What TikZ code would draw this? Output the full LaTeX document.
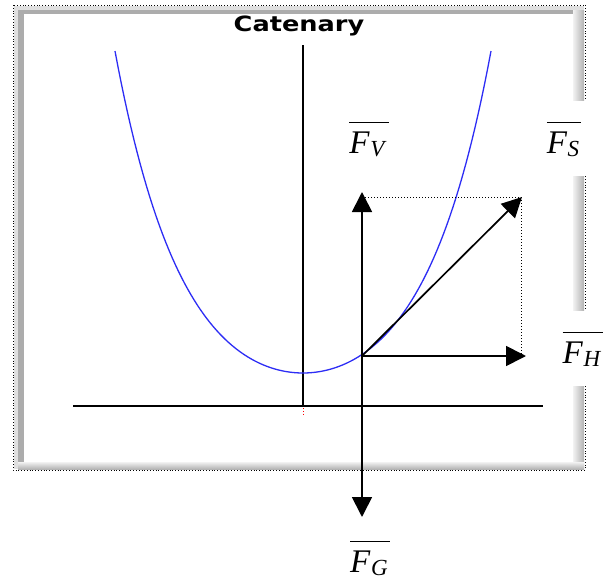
\documentclass[tikz,border=0pt]{standalone}
\usepackage{amsmath}
\usepackage{fontspec}
\setmainfont{Liberation Serif}
\newfontfamily\ttlfont{DejaVu Sans}
\usetikzlibrary{arrows.meta}
\definecolor{catblue}{RGB}{45,45,245}
\newcommand{\forcelbl}[2]{$\overline{\hbox{\rule{0pt}{27pt}\textit{#1}\kern0.5pt\raisebox{-3pt}{\fontsize{23}{25}\selectfont\textit{#2}}\kern2pt}}$}

\begin{document}
\begin{tikzpicture}[x=1pt, y=-1pt,
    >={Triangle[length=20pt, width=20pt]},
    force/.style={->, line width=1.7pt},
    guide/.style={dotted, line width=1pt},
    axis/.style={black, line width=1.4pt},
    lbl/.style={anchor=base, inner sep=0pt, font=\fontsize{33}{38}\selectfont},
    gap/.style={lbl, fill=white, minimum width=60pt, minimum height=75pt},
  ]
  \useasboundingbox (0,0) rectangle (606,581);

  %% ---------------- window frame ----------------
  \draw[dotted, line width=0.8pt] (13,5) rectangle (585,470);
  \fill[gray!25] (14,6) rectangle (584,469);
  \fill[gray!65] (18,10) rectangle (576,462);
  \shade[left color=gray!10, right color=gray!60] (573,10) rectangle (584,469);
  \shade[top color=gray!10, bottom color=gray!60] (18,462) rectangle (584,469);
  \fill[white] (24,14) rectangle (573,462);
  \node (title) at (299,26)
    {\ttlfont\bfseries\fontsize{21}{24}\selectfont\scalebox{1.22}[1]{Catenary}};

  %% ---------------- axes and chain ----------------
  \coordinate (axtop) at (303,45);
  \coordinate (axbot) at (303,406);
  \coordinate (gl) at (73,406);
  \coordinate (gr) at (543,406);
  \draw[black, line width=1.4pt] (axtop) -- (axbot);
  \draw[axis] (gl) -- (gr);
  \draw[red, dotted, line width=0.8pt] (303,408) -- (303,416);
  \draw[catblue, line width=1.3pt]
    plot[domain=-188:188, samples=120] (\x+303, {373-46.2*(cosh(\x/68)-1)});

  %% ---------------- forces ----------------
  \coordinate (O) at (362,356);
  \coordinate (vtip) at (362,192);
  \coordinate (gtip) at (362,517);
  \coordinate (htip) at (526,356);
  \coordinate (stip) at (522,197);
  \coordinate (cnr) at (521,197);
  \draw[guide] (365,197) -- (cnr) -- (521,356);
  \draw[force] (O) -- (vtip);
  \draw[force] (O) -- (gtip);
  \draw[force] (O) -- (htip);
  \draw[force] (O) -- (stip);

  \node[lbl] (FV) at (369,153) {\forcelbl{F}{V}};
  \node[gap] (FS) at (564,153) {\forcelbl{F}{S}};
  \node[gap, minimum width=50pt] (FH) at (583,363) {\forcelbl{F}{H}};
  \node[lbl] (FG) at (370,572) {\forcelbl{F}{G}};

\end{tikzpicture}
\end{document}
